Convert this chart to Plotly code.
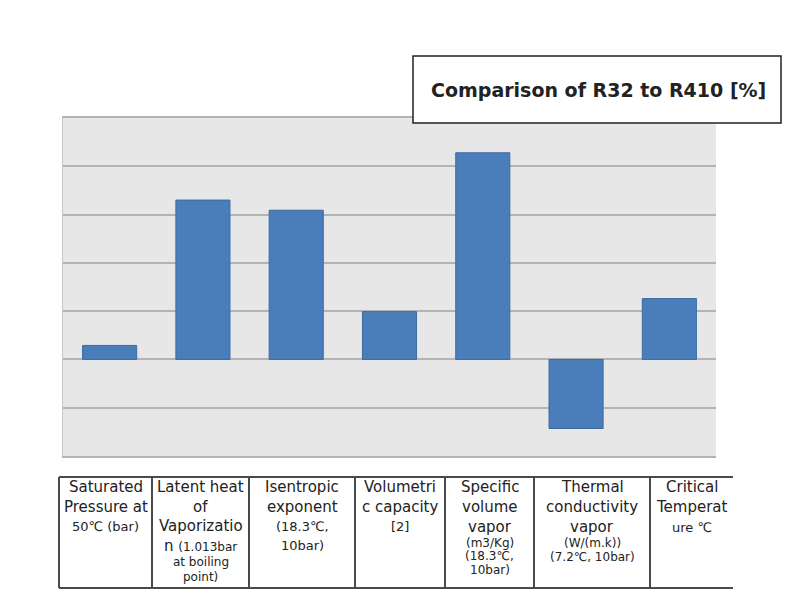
import plotly.graph_objects as go

categories = ["Saturated Pressure", "Latent heat", "Isentropic exponent",
              "Volumetric capacity", "Specific volume vapor",
              "Thermal conductivity vapor", "Critical Temperature"]
values = [0.29, 3.30, 3.09, 0.99, 4.28, -1.43, 1.26]

# table header text: per column, list of (line, font size)
label_lines = [
    [("Saturated", 15), ("Pressure at", 15), ("50℃ (bar)", 13)],
    [("Latent heat", 15), ("of", 15), ("Vaporizatio", 15),
     ("n <span style='font-size:12px'>(1.013bar</span>", 15), ("at boiling", 12), ("point)", 12)],
    [("Isentropic", 15), ("exponent", 15), ("(18.3℃,", 13), ("10bar)", 13)],
    [("Volumetri", 15), ("c capacity", 15), ("[2]", 13)],
    [("Specific", 15), ("volume", 15), ("vapor", 15), ("(m3/Kg)", 12), ("(18.3℃,", 12), ("10bar)", 12)],
    [("Thermal", 15), ("conductivity", 15), ("vapor", 15), ("(W/(m.k))", 12), ("(7.2℃, 10bar)", 12)],
    [("Critical", 15), ("Temperat", 15), ("ure ℃", 13)],
]
title_text = "Comparison of R32 to R410 [%]"

# layout geometry (pixels, in page coordinates; page has an 8px body margin)
OFF = 8
W, H = 784, 584
PL, PR, PT, PB = 63 - OFF, 716 - OFF, 118 - OFF, 456 - OFF
col_edges = [59, 152, 249, 355, 445, 534, 650, 733]
line_ys = [[487, 507, 526], [487, 507, 526, 546, 562, 577], [487, 507, 526, 545],
           [487, 507, 526], [487, 507, 527, 543, 556, 570], [487, 507, 527, 543, 557],
           [487, 507, 527]]


def px(x):
    return (x - OFF - PL) / (PR - PL)


def py(y):
    return (PB - (y - OFF)) / (PB - PT)


fig = go.Figure(go.Bar(
    x=categories, y=values,
    marker=dict(color="#4A7EBB", line=dict(color="#3C6AA3", width=1)),
))

shapes = []
tbl_top, tbl_bot = 477, 588
lc = "#4a4a4a"
shapes.append(dict(type="line", xref="paper", yref="paper", x0=px(col_edges[0]), x1=px(col_edges[-1]),
                   y0=py(tbl_top), y1=py(tbl_top), line=dict(color=lc, width=2)))
shapes.append(dict(type="line", xref="paper", yref="paper", x0=px(col_edges[0]), x1=px(col_edges[-1]),
                   y0=py(tbl_bot), y1=py(tbl_bot), line=dict(color=lc, width=2)))
for e in col_edges[:-1]:
    shapes.append(dict(type="line", xref="paper", yref="paper", x0=px(e), x1=px(e),
                       y0=py(tbl_top), y1=py(tbl_bot), line=dict(color=lc, width=2)))
# title box
shapes.append(dict(type="rect", xref="paper", yref="paper", x0=px(413), x1=px(781),
                   y0=py(123), y1=py(56), line=dict(color="#222222", width=1.5),
                   fillcolor="white", layer="above"))

annotations = []
for i, lines in enumerate(label_lines):
    cx = (col_edges[i] + col_edges[i + 1]) / 2
    for (t, s), yy in zip(lines, line_ys[i]):
        annotations.append(dict(xref="paper", yref="paper", x=px(cx), y=py(yy), text=t,
                                showarrow=False, xanchor="center", yanchor="middle",
                                font=dict(family="DejaVu Sans", size=s, color="#222222")))
annotations.append(dict(xref="paper", yref="paper", x=px(598), y=py(90), text="<b>" + title_text + "</b>",
                        showarrow=False, xanchor="center", yanchor="middle",
                        font=dict(family="DejaVu Sans", size=19, color="#222222")))

fig.update_layout(
    width=W, height=H,
    margin=dict(l=PL, r=W - PR, t=PT, b=H - PB),
    paper_bgcolor="white", plot_bgcolor="#E7E7E7",
    bargap=0.42, showlegend=False,
    shapes=shapes, annotations=annotations,
    xaxis=dict(showticklabels=False, ticks="", showgrid=False, showline=True,
               linecolor="#B4B4B4", linewidth=1.5, mirror=True),
    yaxis=dict(range=[-2, 5], dtick=1, showticklabels=False, ticks="", showgrid=True,
               gridcolor="#B4B4B4", gridwidth=1.5, zeroline=True, zerolinecolor="#B4B4B4",
               zerolinewidth=1.5, showline=True, linecolor="#C8C8C8", linewidth=1),
)

fig.write_html("out.html")
